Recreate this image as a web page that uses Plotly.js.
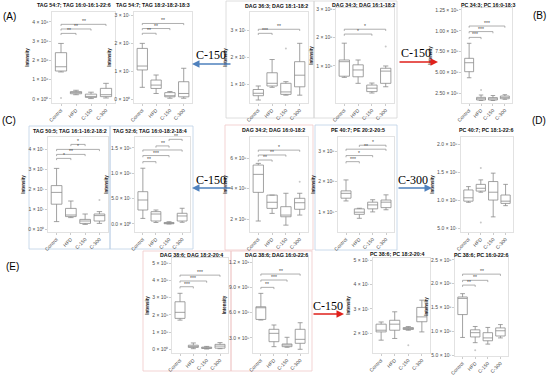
<!DOCTYPE html>
<html><head><meta charset="utf-8">
<script src="https://cdn.plot.ly/plotly-3.0.1.min.js"></script>
<style>html,body{margin:0;padding:0;background:#fff}#chart{width:550px;height:379px}</style>
</head><body><div id="chart"></div>
<script>
// ---------- shared ----------
const groups = ["Control", "HFD", "C-150", "C-300"];

// ---------- (A) TAG 54:7; TAG 16:0-16:1-22:6 ----------
const a1Title = "TAG 54:7; TAG 16:0-16:1-22:6";
const a1Low  = [1.40e6, 0.22e6, 0.02e6, 0.05e6];
const a1Q1   = [1.45e6, 0.27e6, 0.08e6, 0.12e6];
const a1Med  = [1.67e6, 0.33e6, 0.13e6, 0.22e6];
const a1Q3   = [2.40e6, 0.38e6, 0.25e6, 0.55e6];
const a1High = [2.88e6, 0.45e6, 0.35e6, 0.81e6];
const a1TickVals = [0, 1e6, 2e6, 3e6, 4e6];
const a1TickText = ["0 × 10⁰", "1 × 10⁶", "2 × 10⁶", "3 × 10⁶", "4 × 10⁶"];
const a1SigFrom = [0, 0, 0], a1SigTo = [1, 2, 3];
const a1SigY = [3.40e6, 3.63e6, 3.87e6], a1SigLabel = ["**", "**", "**"];
const a1OutX = ["Control"], a1OutY = [0.05e6];

// ---------- (A) TAG 54:7; TAG 18:2-18:2-18:3 ----------
const a2Title = "TAG 54:7; TAG 18:2-18:2-18:3";
const a2Low  = [0.42e7, 0.20e7, 0.03e7, 0.03e7];
const a2Q1   = [1.04e7, 0.38e7, 0.08e7, 0.08e7];
const a2Med  = [1.18e7, 0.50e7, 0.12e7, 0.20e7];
const a2Q3   = [1.81e7, 0.68e7, 0.23e7, 0.62e7];
const a2High = [1.99e7, 0.86e7, 0.27e7, 1.10e7];
const a2TickVals = [0, 1e7, 2e7, 3e7];
const a2TickText = ["0 × 10⁰", "1 × 10⁷", "2 × 10⁷", "3 × 10⁷"];
const a2SigFrom = [0, 0, 0], a2SigTo = [1, 2, 3];
const a2SigY = [2.35e7, 2.52e7, 2.70e7], a2SigLabel = ["**", "**", "**"];
const a2OutX = [], a2OutY = [];

// ---------- (A) DAG 36:3; DAG 18:1-18:2 ----------
const a3Title = "DAG 36:3; DAG 18:1-18:2";
const a3Low  = [0.41e7, 0.88e7, 0.59e7, 0.59e7];
const a3Q1   = [0.57e7, 0.93e7, 0.62e7, 0.90e7];
const a3Med  = [0.66e7, 1.03e7, 0.71e7, 1.33e7];
const a3Q3   = [0.80e7, 1.42e7, 1.03e7, 1.83e7];
const a3High = [0.93e7, 1.91e7, 1.09e7, 2.51e7];
const a3TickVals = [1e7, 2e7, 3e7];
const a3TickText = ["1 × 10⁷", "2 × 10⁷", "3 × 10⁷"];
const a3SigFrom = [0, 0], a3SigTo = [1, 3];
const a3SigY = [2.88e7, 3.03e7], a3SigLabel = ["***", "**"];
const a3OutX = ["C-150"], a3OutY = [2.32e7];

// ---------- (A) DAG 34:3; DAG 16:1-18:2 ----------
const a4Title = "DAG 34:3; DAG 16:1-18:2";
const a4Low  = [0.60e8, 0.39e8, 0.05e8, 0.27e8];
const a4Q1   = [0.64e8, 0.62e8, 0.10e8, 0.39e8];
const a4Med  = [1.15e8, 0.86e8, 0.22e8, 0.82e8];
const a4Q3   = [1.21e8, 1.04e8, 0.33e8, 0.92e8];
const a4High = [1.80e8, 1.21e8, 0.40e8, 1.00e8];
const a4TickVals = [1e8, 2e8, 3e8];
const a4TickText = ["1 × 10⁸", "2 × 10⁸", "3 × 10⁸"];
const a4SigFrom = [0, 0], a4SigTo = [2, 3];
const a4SigY = [2.12e8, 2.29e8], a4SigLabel = ["*", "*"];
const a4OutX = ["C-300"], a4OutY = [1.68e8];

// ---------- (B) PC 34:3; PC 16:0-18:3 ----------
const bTitle = "PC 34:3; PC 16:0-18:3";
const bLow  = [0.434e9, 0.160e9, 0.160e9, 0.175e9];
const bQ1   = [0.507e9, 0.166e9, 0.166e9, 0.181e9];
const bMed  = [0.615e9, 0.181e9, 0.180e9, 0.198e9];
const bQ3   = [0.668e9, 0.198e9, 0.195e9, 0.214e9];
const bHigh = [0.849e9, 0.226e9, 0.220e9, 0.230e9];
const bTickVals = [2.5e8, 5e8, 7.5e8, 1e9, 1.25e9];
const bTickText = ["2.50 × 10⁸", "5.00 × 10⁸", "7.50 × 10⁸", "1.00 × 10⁹", "1.25 × 10⁹"];
const bSigFrom = [0, 0, 0], bSigTo = [1, 2, 3];
const bSigY = [0.920e9, 0.990e9, 1.057e9], bSigLabel = ["***", "***", "***"];
const bOutX = ["HFD"], bOutY = [0.286e9];

// ---------- (C) TAG 50:5; TAG 16:1-16:2-18:2 ----------
const c1Title = "TAG 50:5; TAG 16:1-16:2-18:2";
const c1Low  = [0.37e7, 0.57e7, 0.23e7, 0.28e7];
const c1Q1   = [1.24e7, 0.62e7, 0.28e7, 0.40e7];
const c1Med  = [1.83e7, 0.70e7, 0.40e7, 0.67e7];
const c1Q3   = [2.17e7, 1.03e7, 0.48e7, 0.75e7];
const c1High = [3.03e7, 1.40e7, 0.75e7, 0.87e7];
const c1TickVals = [0, 1e7, 2e7, 3e7, 4e7];
const c1TickText = ["0 × 10⁰", "1 × 10⁷", "2 × 10⁷", "3 × 10⁷", "4 × 10⁷"];
const c1SigFrom = [0, 0, 0, 1], c1SigTo = [1, 2, 3, 2];
const c1SigY = [3.53e7, 3.73e7, 3.98e7, 4.23e7], c1SigLabel = ["*", "**", "*", "*"];
const c1OutX = ["C-300"], c1OutY = [1.45e7];

// ---------- (C) TAG 52:6; TAG 16:0-18:2-18:4 ----------
const c2Title = "TAG 52:6; TAG 16:0-18:2-18:4";
const c2Low  = [0.110e8, 0.030e8, 0.000e8, 0.034e8];
const c2Q1   = [0.276e8, 0.059e8, 0.005e8, 0.059e8];
const c2Med  = [0.473e8, 0.197e8, 0.015e8, 0.158e8];
const c2Q3   = [0.637e8, 0.243e8, 0.030e8, 0.211e8];
const c2High = [1.100e8, 0.276e8, 0.045e8, 0.310e8];
const c2TickVals = [0, 5e7, 1e8, 1.5e8];
const c2TickText = ["0.0 × 10⁰", "5.0 × 10⁷", "1.0 × 10⁸", "1.5 × 10⁸"];
const c2SigFrom = [0, 0, 0, 1, 2], c2SigTo = [1, 2, 3, 2, 3];
const c2SigY = [1.23e8, 1.35e8, 1.46e8, 1.54e8, 1.67e8], c2SigLabel = ["**", "***", "", "**", "**"];
const c2OutX = [], c2OutY = [];

// ---------- (C) DAG 34:2; DAG 16:0-18:2 ----------
const c3Title = "DAG 34:2; DAG 16:0-18:2";
const c3Low  = [1.87e8, 2.37e8, 1.60e8, 2.26e8];
const c3Q1   = [3.75e8, 2.70e8, 2.15e8, 2.64e8];
const c3Med  = [4.93e8, 3.10e8, 2.26e8, 3.07e8];
const c3Q3   = [5.54e8, 3.57e8, 2.81e8, 3.36e8];
const c3High = [5.65e8, 3.57e8, 3.69e8, 3.69e8];
const c3TickVals = [2e8, 4e8, 6e8];
const c3TickText = ["2 × 10⁸", "4 × 10⁸", "6 × 10⁸"];
const c3SigFrom = [0, 0, 0], c3SigTo = [1, 2, 3];
const c3SigY = [5.87e8, 6.20e8, 6.52e8], c3SigLabel = ["**", "**", "*"];
const c3OutX = ["C-300"], c3OutY = [4.45e8];

// ---------- (C) PE 40:7; PE 20:2-20:5 ----------
const c4Title = "PE 40:7; PE 20:2-20:5";
const c4Low  = [1.36e8, 0.79e8, 1.00e8, 1.07e8];
const c4Q1   = [1.45e8, 0.92e8, 1.10e8, 1.14e8];
const c4Med  = [1.61e8, 0.99e8, 1.23e8, 1.32e8];
const c4Q3   = [1.69e8, 1.10e8, 1.32e8, 1.39e8];
const c4High = [2.05e8, 1.12e8, 1.40e8, 1.56e8];
const c4TickVals = [1e8, 2e8, 3e8];
const c4TickText = ["1 × 10⁸", "2 × 10⁸", "3 × 10⁸"];
const c4SigFrom = [0, 0, 0, 1], c4SigTo = [1, 2, 3, 3];
const c4SigY = [2.65e8, 2.85e8, 3.06e8, 3.19e8], c4SigLabel = ["***", "*", "**", "*"];
const c4OutX = [], c4OutY = [];

// ---------- (D) PC 40:7; PC 18:1-22:6 ----------
const dTitle = "PC 40:7; PC 18:1-22:6";
const dLow  = [0.96e8, 1.14e8, 0.70e8, 0.90e8];
const dQ1   = [0.98e8, 1.16e8, 1.00e8, 0.94e8];
const dMed  = [1.04e8, 1.21e8, 1.14e8, 0.98e8];
const dQ3   = [1.18e8, 1.28e8, 1.33e8, 1.09e8];
const dHigh = [1.24e8, 1.36e8, 1.48e8, 1.28e8];
const dTickVals = [5e7, 1e8, 1.5e8, 2e8];
const dTickText = ["5.0 × 10⁷", "1.0 × 10⁸", "1.5 × 10⁸", "2.0 × 10⁸"];
const dSigFrom = [], dSigTo = [], dSigY = [], dSigLabel = [];
const dOutX = ["HFD", "HFD"], dOutY = [1.57e8, 0.60e8];

// ---------- (E) DAG 38:6; DAG 18:2-20:4 ----------
const e1Title = "DAG 38:6; DAG 18:2-20:4";
const e1Low  = [1.70e8, 0.05e8, 0.03e8, 0.05e8];
const e1Q1   = [1.80e8, 0.12e8, 0.06e8, 0.08e8];
const e1Med  = [2.15e8, 0.18e8, 0.10e8, 0.20e8];
const e1Q3   = [2.76e8, 0.25e8, 0.14e8, 0.30e8];
const e1High = [3.25e8, 0.38e8, 0.18e8, 0.40e8];
const e1TickVals = [0, 1e8, 2e8, 3e8, 4e8, 5e8];
const e1TickText = ["0 × 10⁰", "1 × 10⁸", "2 × 10⁸", "3 × 10⁸", "4 × 10⁸", "5 × 10⁸"];
const e1SigFrom = [0, 0, 0], e1SigTo = [1, 2, 3];
const e1SigY = [3.63e8, 3.96e8, 4.30e8], e1SigLabel = ["***", "***", "***"];
const e1OutX = [], e1OutY = [];

// ---------- (E) DAG 38:6; DAG 16:0-22:6 ----------
const e2Title = "DAG 38:6; DAG 16:0-22:6";
const e2Low  = [5.13e8, 1.97e8, 1.90e8, 1.66e8];
const e2Q1   = [5.20e8, 2.56e8, 1.97e8, 2.37e8];
const e2Med  = [6.59e8, 3.55e8, 2.17e8, 2.84e8];
const e2Q3   = [6.70e8, 4.03e8, 2.29e8, 4.03e8];
const e2High = [8.29e8, 4.54e8, 3.08e8, 4.81e8];
const e2TickVals = [3e8, 6e8, 9e8, 1.2e9];
const e2TickText = ["3.0 × 10⁸", "6.0 × 10⁸", "9.0 × 10⁸", "1.2 × 10⁹"];
const e2SigFrom = [0, 0, 0], e2SigTo = [1, 2, 3];
const e2SigY = [9.00e8, 9.87e8, 10.58e8], e2SigLabel = ["**", "***", "**"];
const e2OutX = [], e2OutY = [];

// ---------- (E) PC 38:6; PC 18:2-20:4 ----------
const e3Title = "PC 38:6; PC 18:2-20:4";
const e3Low  = [1.71e7, 1.78e7, 2.12e7, 2.05e7];
const e3Q1   = [2.05e7, 2.12e7, 2.15e7, 2.47e7];
const e3Med  = [2.12e7, 2.37e7, 2.19e7, 2.67e7];
const e3Q3   = [2.37e7, 2.53e7, 2.23e7, 3.06e7];
const e3High = [2.46e7, 2.88e7, 2.27e7, 3.36e7];
const e3TickVals = [2e7, 3e7, 4e7, 5e7];
const e3TickText = ["2 × 10⁷", "3 × 10⁷", "4 × 10⁷", "5 × 10⁷"];
const e3SigFrom = [], e3SigTo = [], e3SigY = [], e3SigLabel = [];
const e3OutX = ["C-150"], e3OutY = [1.50e7];

// ---------- (E) PC 38:6; PC 16:0-22:6 ----------
const e4Title = "PC 38:6; PC 16:0-22:6";
const e4Low  = [0.87e8, 0.76e8, 0.73e8, 0.86e8];
const e4Q1   = [1.35e8, 0.88e8, 0.80e8, 0.90e8];
const e4Med  = [1.69e8, 0.97e8, 0.86e8, 1.01e8];
const e4Q3   = [1.72e8, 1.03e8, 0.97e8, 1.07e8];
const e4High = [1.79e8, 1.10e8, 1.08e8, 1.14e8];
const e4TickVals = [5e7, 1e8, 1.5e8, 2e8, 2.5e8];
const e4TickText = ["5.0 × 10⁷", "1.0 × 10⁸", "1.5 × 10⁸", "2.0 × 10⁸", "2.5 × 10⁸"];
const e4SigFrom = [0, 0, 0], e4SigTo = [1, 2, 3];
const e4SigY = [1.97e8, 2.07e8, 2.20e8], e4SigLabel = ["**", "**", "**"];
const e4OutX = ["HFD"], e4OutY = [0.60e8];

// ---------- panel assembly (layout: pixel boxes x0,x1,yTop,yBot; y range) ----------
const W = 550, H = 379;
const panels = [
  {t:a1Title, lo:a1Low, q1:a1Q1, md:a1Med, q3:a1Q3, hi:a1High, tv:a1TickVals, tt:a1TickText, sf:a1SigFrom, st:a1SigTo, sy:a1SigY, sl:a1SigLabel, ox:a1OutX, oy:a1OutY, px:[52,115,12,103], r:[-0.21e6,4.51e6], tc:[74,5]},
  {t:a2Title, lo:a2Low, q1:a2Q1, md:a2Med, q3:a2Q3, hi:a2High, tv:a2TickVals, tt:a2TickText, sf:a2SigFrom, st:a2SigTo, sy:a2SigY, sl:a2SigLabel, ox:a2OutX, oy:a2OutY, px:[134,192,12,103], r:[-0.14e7,3.11e7], tc:[153,5]},
  {t:a3Title, lo:a3Low, q1:a3Q1, md:a3Med, q3:a3Q3, hi:a3High, tv:a3TickVals, tt:a3TickText, sf:a3SigFrom, st:a3SigTo, sy:a3SigY, sl:a3SigLabel, ox:a3OutX, oy:a3OutY, px:[250,308,12,103], r:[0.30e7,3.67e7], tc:[276,6]},
  {t:a4Title, lo:a4Low, q1:a4Q1, md:a4Med, q3:a4Q3, hi:a4High, tv:a4TickVals, tt:a4TickText, sf:a4SigFrom, st:a4SigTo, sy:a4SigY, sl:a4SigLabel, ox:a4OutX, oy:a4OutY, px:[336,394,8,103], r:[-0.30e8,3.035e8], tc:[363,5]},
  {t:bTitle, lo:bLow, q1:bQ1, md:bMed, q3:bQ3, hi:bHigh, tv:bTickVals, tt:bTickText, sf:bSigFrom, st:bSigTo, sy:bSigY, sl:bSigLabel, ox:bOutX, oy:bOutY, px:[462,512,8,103], r:[0.13e9,1.274e9], tc:[488,5]},
  {t:c1Title, lo:c1Low, q1:c1Q1, md:c1Med, q3:c1Q3, hi:c1High, tv:c1TickVals, tt:c1TickText, sf:c1SigFrom, st:c1SigTo, sy:c1SigY, sl:c1SigLabel, ox:c1OutX, oy:c1OutY, px:[48,108,137,232], r:[-0.15e7,4.6e7], tc:[70,131]},
  {t:c2Title, lo:c2Low, q1:c2Q1, md:c2Med, q3:c2Q3, hi:c2High, tv:c2TickVals, tt:c2TickText, sf:c2SigFrom, st:c2SigTo, sy:c2SigY, sl:c2SigLabel, ox:c2OutX, oy:c2OutY, px:[135,190,137,232], r:[-0.158e8,1.716e8], tc:[150,131]},
  {t:c3Title, lo:c3Low, q1:c3Q1, md:c3Med, q3:c3Q3, hi:c3High, tv:c3TickVals, tt:c3TickText, sf:c3SigFrom, st:c3SigTo, sy:c3SigY, sl:c3SigLabel, ox:c3OutX, oy:c3OutY, px:[250,308,137,232], r:[1.15e8,7.38e8], tc:[273,130]},
  {t:c4Title, lo:c4Low, q1:c4Q1, md:c4Med, q3:c4Q3, hi:c4High, tv:c4TickVals, tt:c4TickText, sf:c4SigFrom, st:c4SigTo, sy:c4SigY, sl:c4SigLabel, ox:c4OutX, oy:c4OutY, px:[338,394,137,232], r:[0.34e8,3.46e8], tc:[358,130]},
  {t:dTitle, lo:dLow, q1:dQ1, md:dMed, q3:dQ3, hi:dHigh, tv:dTickVals, tt:dTickText, sf:dSigFrom, st:dSigTo, sy:dSigY, sl:dSigLabel, ox:dOutX, oy:dOutY, px:[461,513,137,232], r:[0.43e8,2.125e8], tc:[486,130]},
  {t:e1Title, lo:e1Low, q1:e1Q1, md:e1Med, q3:e1Q3, hi:e1High, tv:e1TickVals, tt:e1TickText, sf:e1SigFrom, st:e1SigTo, sy:e1SigY, sl:e1SigLabel, ox:e1OutX, oy:e1OutY, px:[172,228,258,353], r:[-0.2e8,5.29e8], tc:[191,255]},
  {t:e2Title, lo:e2Low, q1:e2Q1, md:e2Med, q3:e2Q3, hi:e2High, tv:e2TickVals, tt:e2TickText, sf:e2SigFrom, st:e2SigTo, sy:e2SigY, sl:e2SigLabel, ox:e2OutX, oy:e2OutY, px:[253,308,257,353], r:[1.22e8,12.6e8], tc:[276,255]},
  {t:e3Title, lo:e3Low, q1:e3Q1, md:e3Med, q3:e3Q3, hi:e3High, tv:e3TickVals, tt:e3TickText, sf:e3SigFrom, st:e3SigTo, sy:e3SigY, sl:e3SigLabel, ox:e3OutX, oy:e3OutY, px:[373,430,258,353], r:[1.18e7,5.10e7], tc:[397,254]},
  {t:e4Title, lo:e4Low, q1:e4Q1, md:e4Med, q3:e4Q3, hi:e4High, tv:e4TickVals, tt:e4TickText, sf:e4SigFrom, st:e4SigTo, sy:e4SigY, sl:e4SigLabel, ox:e4OutX, oy:e4OutY, px:[455,508,257,356], r:[0.48e8,2.56e8], tc:[481,255]}
];

const FONT = "Liberation Sans, Arial, sans-serif";
const SERIF = "Liberation Serif, Times New Roman, serif";
const traces = [];
const layout = {
  width: W, height: H, margin: {l:0, r:0, t:0, b:0},
  paper_bgcolor: "#fff", plot_bgcolor: "#fff", showlegend: false,
  font: {family: FONT, size: 5, color: "#4d4d4d"},
  annotations: [], shapes: []
};

panels.forEach((p, i) => {
  const n = i === 0 ? "" : String(i + 1);
  const xa = "x" + n, ya = "y" + n;
  const [x0, x1, yt, yb] = p.px;
  traces.push({
    type: "box", x: groups, q1: p.q1, median: p.md, q3: p.q3,
    lowerfence: p.lo, upperfence: p.hi, boxpoints: false,
    xaxis: xa, yaxis: ya, width: 0.75,
    fillcolor: "#ffffff", line: {color: "#8a8a8a", width: 0.8},
    hoverinfo: "skip"
  });
  if (p.ox.length) {
    traces.push({
      type: "scatter", mode: "markers", x: p.ox, y: p.oy, xaxis: xa, yaxis: ya,
      marker: {size: 2, color: "#c8c8c8"}, hoverinfo: "skip"
    });
  }
  layout["xaxis" + n] = {
    domain: [x0 / W, x1 / W], anchor: ya, type: "category",
    categoryorder: "array", categoryarray: groups, range: [-0.6, 3.6],
    tickangle: -45, tickfont: {size: 5, color: "#4d4d4d", family: FONT},
    ticks: "outside", ticklen: 2, tickwidth: 0.5, tickcolor: "#999",
    showline: true, mirror: true, linecolor: "#cfcfcf", linewidth: 0.6,
    showgrid: false, zeroline: false, fixedrange: true
  };
  layout["yaxis" + n] = {
    domain: [1 - yb / H, 1 - yt / H], anchor: xa, range: p.r,
    tickvals: p.tv, ticktext: p.tt, tickfont: {size: 5, color: "#4d4d4d", family: FONT},
    ticks: "outside", ticklen: 2, tickwidth: 0.5, tickcolor: "#999",
    showline: true, mirror: true, linecolor: "#cfcfcf", linewidth: 0.6,
    showgrid: false, zeroline: false, fixedrange: true,
    title: {text: "<b>Intensity</b>", font: {size: 4.5, color: "#222", family: FONT}, standoff: 2}
  };
  layout.annotations.push({
    xref: "paper", yref: "paper", x: p.tc[0] / W, y: 1 - p.tc[1] / H,
    xanchor: "center", yanchor: "middle", showarrow: false,
    text: "<b>" + p.t + "</b>", font: {size: 5.3, color: "#111", family: FONT}
  });
  const tip = (p.r[1] - p.r[0]) * 0.018;
  p.sf.forEach((f, k) => {
    const t = p.st[k], yv = p.sy[k];
    [[f, t, yv, yv], [f, f, yv - tip, yv], [t, t, yv - tip, yv]].forEach(s => {
      layout.shapes.push({type: "line", xref: xa, yref: ya, x0: s[0], x1: s[1], y0: s[2], y1: s[3],
        line: {color: "rgb(140,140,140)", width: 0.7}});
    });
    if (p.sl[k]) {
      layout.annotations.push({
        xref: xa, yref: ya, x: (f + t) / 2, y: yv, yanchor: "bottom", yshift: -2,
        showarrow: false, text: p.sl[k], font: {size: 5, color: "#444", family: FONT}
      });
    }
  });
});

// group frames (decoration)
const frames = [
  [226, 314, 1, 118, "#d6d6d6"], [314, 397, 1, 118, "#d6d6d6"],
  [29, 110, 126, 249, "#bcd0e6"], [110, 193, 126, 249, "#bcd0e6"],
  [225, 313, 125, 250, "#f0c8c8"], [315, 397, 125, 250, "#bcd0e6"],
  [143, 231, 251, 371, "#f0c8c8"], [231, 312, 251, 371, "#f0c8c8"]
];
frames.forEach(f => layout.shapes.push({
  type: "rect", xref: "paper", yref: "paper", layer: "below",
  x0: f[0] / W, x1: f[1] / W, y0: 1 - f[3] / H, y1: 1 - f[2] / H,
  line: {color: f[4], width: 0.8}, fillcolor: "rgba(0,0,0,0)"
}));

// arrows between panels: [headX, headY, tailX, tailY, color, label, labelX, labelY]
const arrows = [
  [192, 64, 232, 64, "#4f81bd", "C-150", 211, 55],
  [438, 62, 398, 62, "#e0201b", "C-150", 416, 53],
  [192, 188, 232, 188, "#4f81bd", "C-150", 211, 180],
  [432, 188, 397, 188, "#4f81bd", "C-300", 413, 180],
  [344, 314, 312, 314, "#e0201b", "C-150", 328, 306]
];
arrows.forEach(a => {
  layout.annotations.push({
    xref: "paper", yref: "paper", x: a[0] / W, y: 1 - a[1] / H,
    ax: a[2] - a[0], ay: a[3] - a[1], text: "", showarrow: true,
    arrowhead: 2, arrowsize: 1, arrowwidth: 1.5, arrowcolor: a[4], standoff: 0, startstandoff: 0
  });
  layout.annotations.push({
    xref: "paper", yref: "paper", x: a[6] / W, y: 1 - a[7] / H,
    xanchor: "center", yanchor: "middle", showarrow: false,
    text: a[5], font: {size: 12, color: "#000", family: SERIF}
  });
});

// panel letters
const letters = [["(A)", 9, 16], ["(B)", 539, 15], ["(C)", 9, 121], ["(D)", 539, 121], ["(E)", 12, 266]];
letters.forEach(l => layout.annotations.push({
  xref: "paper", yref: "paper", x: l[1] / W, y: 1 - l[2] / H,
  xanchor: "center", yanchor: "middle", showarrow: false,
  text: l[0], font: {size: 10, color: "#000", family: FONT}
}));

Plotly.newPlot("chart", traces, layout, {staticPlot: true, displayModeBar: false});
</script>
</body></html>
